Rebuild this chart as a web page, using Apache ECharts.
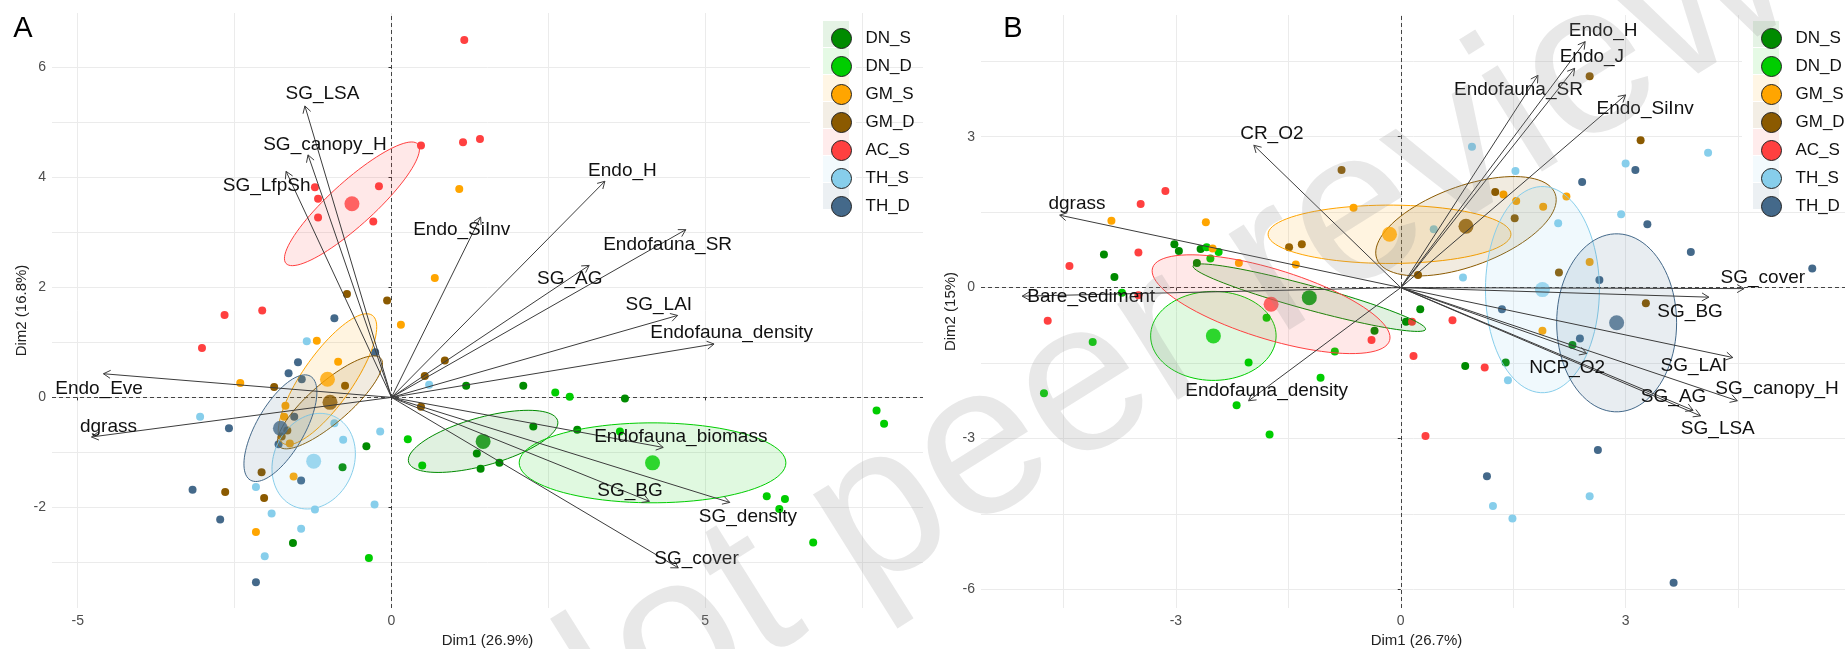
<!DOCTYPE html>
<html><head><meta charset="utf-8">
<script src="https://cdn.jsdelivr.net/npm/echarts@6/dist/echarts.min.js"></script>
<style>html,body{margin:0;padding:0;background:#fff}#c{width:1845px;height:649px}</style>
</head><body><div id="c"></div>
<script>
// ---------- groups ----------
const groups = ['DN_S','DN_D','GM_S','GM_D','AC_S','TH_S','TH_D'];
const groupColors = ['#008B00','#00CD00','#FFA500','#8B5A00','#FF4040','#87CEEB','#44698A'];

// ---------- panel A: individuals ----------
const ptsA_DN_S = [[-0.40,-0.89],[-0.78,-1.27],[-1.57,-2.65],[1.19,0.21],[2.10,0.21],[3.72,-0.02],[2.26,-0.53],[2.96,-0.59],[1.36,-1.02],[1.42,-1.30],[1.72,-1.19]];
const ptsA_DN_D = [[0.26,-0.76],[0.49,-1.24],[-0.36,-2.92],[2.61,0.09],[2.84,0.01],[3.64,-0.62],[5.98,-1.80],[6.27,-1.85],[6.18,-2.03],[6.72,-2.64],[7.73,-0.24],[7.85,-0.48]];
const ptsA_GM_S = [[1.08,3.79],[0.69,2.17],[0.15,1.32],[-1.19,1.03],[-0.85,0.65],[-2.41,0.26],[-1.69,-0.15],[-1.71,-0.35],[-1.62,-0.84],[-1.56,-1.44],[-2.16,-2.45]];
const ptsA_GM_D = [[-0.71,1.88],[-0.07,1.76],[0.85,0.67],[0.53,0.39],[-1.87,0.19],[-0.74,0.21],[0.47,-0.17],[-1.66,-0.60],[-1.75,-0.71],[-2.07,-1.36],[-2.65,-1.72],[-2.03,-1.83]];
const ptsA_AC_S = [[-1.22,3.82],[-1.17,3.61],[-1.17,3.27],[-0.20,3.84],[-0.29,3.20],[0.47,4.58],[-2.66,1.50],[-2.06,1.58],[1.16,6.50],[1.14,4.64],[1.41,4.70],[-3.02,0.90]];
const ptsA_TH_S = [[-1.35,1.02],[0.60,0.23],[-3.05,-0.35],[-0.91,-0.47],[-0.77,-0.77],[-0.18,-0.62],[-2.16,-1.63],[-0.27,-1.95],[-1.22,-2.04],[-1.91,-2.11],[-1.44,-2.39],[-2.02,-2.89]];
const ptsA_TH_D = [[-0.91,1.44],[-1.49,0.64],[-1.64,0.44],[-0.26,0.82],[-1.43,0.33],[-1.55,-0.35],[-2.59,-0.56],[-1.80,-0.85],[-1.44,-1.51],[-3.17,-1.68],[-2.73,-2.22],[-2.16,-3.36]];
// group means (order of groups)
const centroidsA = [[1.46,-0.80],[4.16,-1.19],[-1.02,0.33],[-0.98,-0.09],[-0.63,3.52],[-1.24,-1.16],[-1.77,-0.56]];
// confidence ellipses: centre, first semi-axis vector, second semi-axis vector (data units)
const ellipsesA = [
  [1.46,-0.80, 1.187,0.378, 0.103,-0.420],
  [4.16,-1.19, 2.125,0.000, 0.000,0.727],
  [-1.02,0.33, 0.714,1.162, 0.326,-0.261],
  [-0.98,-0.09, 0.810,0.800, 0.209,-0.275],
  [-0.63,3.52, 1.050,1.085, 0.235,-0.296],
  [-1.24,-1.16, 0.319,0.818, 0.583,-0.295],
  [-1.77,-0.56, 0.478,0.945, 0.331,-0.218]
];
// variables
const varNamesA = ['SG_LSA','SG_canopy_H','SG_LfpSh','Endo_SiInv','Endo_H','Endofauna_SR','SG_AG','SG_LAI','Endofauna_density','Endofauna_biomass','SG_BG','SG_density','SG_cover','Endo_Eve','dgrass'];
const arrowsA = [[-1.38,5.30],[-1.33,4.41],[-1.68,4.11],[1.42,3.28],[3.40,3.93],[4.69,3.05],[3.15,2.40],[4.56,1.49],[5.14,0.97],[4.33,-0.91],[4.11,-1.89],[5.39,-1.91],[4.57,-3.10],[-4.59,0.43],[-4.78,-0.72]];
const labelPosA = [[-1.10,5.52],[-1.06,4.59],[-1.99,3.85],[1.12,3.04],[3.68,4.13],[4.40,2.78],[2.84,2.15],[4.26,1.69],[5.42,1.17],[4.61,-0.71],[3.80,-1.69],[5.68,-2.18],[4.86,-2.94],[-4.66,0.15],[-4.51,-0.53]];

// ---------- panel B: individuals ----------
const ptsB_DN_S = [[-3.02,0.86],[-2.96,0.73],[-2.67,0.77],[-2.72,0.49],[-3.96,0.66],[-3.82,0.21],[0.07,-0.68],[-0.35,-0.86],[0.26,-0.43],[0.86,-1.56],[1.40,-1.49],[2.29,-1.14]];
const ptsB_DN_D = [[-2.59,0.80],[-2.43,0.71],[-2.54,0.58],[-3.72,-0.10],[-1.79,-0.60],[-2.03,-1.49],[-0.88,-1.27],[-1.07,-1.79],[-2.19,-2.34],[-4.11,-1.08],[-4.76,-2.10],[-1.75,-2.92]];
const ptsB_GM_S = [[-3.86,1.33],[-2.60,1.30],[-0.63,1.59],[-1.40,0.46],[-2.16,0.49],[-2.51,0.78],[1.37,1.85],[1.54,1.72],[1.90,1.61],[2.21,1.81],[1.89,-0.86],[2.52,0.51]];
const ptsB_GM_D = [[-0.79,2.34],[-1.49,0.80],[-1.32,0.86],[1.26,1.90],[1.52,1.38],[0.23,0.25],[2.11,0.30],[2.52,4.20],[3.20,2.93],[3.27,-0.31]];
const ptsB_AC_S = [[-3.14,1.92],[-3.47,1.66],[-3.50,0.70],[-4.42,0.43],[-3.50,-0.15],[-4.71,-0.66],[-0.39,-1.04],[0.15,-0.68],[0.69,-0.65],[0.17,-1.36],[1.12,-1.59],[0.33,-2.95]];
const ptsB_TH_S = [[0.44,1.16],[0.83,0.20],[1.53,2.32],[2.10,1.28],[0.95,2.80],[4.10,2.68],[3.00,2.47],[2.94,1.46],[1.43,-1.84],[2.52,-4.15],[1.23,-4.34],[1.49,-4.59]];
const ptsB_TH_D = [[1.35,-0.43],[3.13,2.34],[2.42,2.10],[3.29,1.26],[3.87,0.71],[5.49,0.38],[2.65,0.15],[2.39,-1.01],[2.63,-3.23],[1.15,-3.75],[3.64,-5.87]];
const centroidsB = [[-1.22,-0.20],[-2.50,-0.96],[-0.15,1.06],[0.87,1.22],[-1.73,-0.33],[1.89,-0.04],[2.88,-0.70]];
const ellipsesB = [
  [-1.22,-0.20, 1.551,-0.630, -0.042,-0.231],
  [-2.50,-0.96, 0.837,0.000, 0.000,0.885],
  [-0.15,1.06, 1.620,0.000, 0.000,0.580],
  [0.87,1.22, 1.190,0.646, 0.183,-0.748],
  [-1.73,-0.33, 1.581,-0.722, -0.136,-0.666],
  [1.89,-0.04, 0.760,0.000, 0.000,2.050],
  [2.88,-0.70, 0.800,0.000, 0.000,1.770]
];
const varNamesB = ['Endo_H','Endo_J','Endofauna_SR','Endo_SiInv','CR_O2','dgrass','Bare_sediment','Endofauna_density','SG_cover','SG_BG','NCP_O2','SG_LAI','SG_canopy_H','SG_AG','SG_LSA'];
const arrowsB = [[2.46,4.89],[2.32,4.36],[1.83,4.22],[3.00,3.83],[-1.96,2.83],[-4.55,1.44],[-5.05,-0.17],[-2.03,-2.25],[4.58,-0.02],[4.11,-0.19],[2.48,-1.31],[4.43,-1.39],[4.49,-2.25],[3.90,-2.44],[4.00,-2.55]];
const labelPosB = [[2.70,5.10],[2.55,4.59],[1.57,3.94],[3.26,3.56],[-1.72,3.05],[-4.32,1.67],[-4.13,-0.18],[-1.79,-2.06],[4.83,0.20],[3.86,-0.48],[2.22,-1.59],[3.91,-1.55],[5.02,-2.02],[3.64,-2.18],[4.23,-2.81]];

// ---------- axes ticks ----------
const xTicksA = [-5,0,5], xMinorA = [-2.5,2.5,7.5];
const yTicksA = [-2,0,2,4,6], yMinorA = [-3,-1,1,3,5];
const xTicksB = [-3,0,3], xMinorB = [-4.5,-1.5,1.5,4.5];
const yTicksB = [-6,-3,0,3], yMinorB = [-4.5,-1.5,1.5,4.5];
const axisTitlesA = ['Dim1 (26.9%)','Dim2 (16.8%)'];
const axisTitlesB = ['Dim1 (26.7%)','Dim2 (15%)'];

const FONT = 'Liberation Sans, Arial, sans-serif';
function rgba(hex,a){const n=parseInt(hex.slice(1),16);return `rgba(${(n>>16)&255},${(n>>8)&255},${n&255},${a})`;}

const ptsA = [ptsA_DN_S,ptsA_DN_D,ptsA_GM_S,ptsA_GM_D,ptsA_AC_S,ptsA_TH_S,ptsA_TH_D];
const ptsB = [ptsB_DN_S,ptsB_DN_D,ptsB_GM_S,ptsB_GM_D,ptsB_AC_S,ptsB_TH_S,ptsB_TH_D];

function panelSeries(pi, pts, cents, ells, arrows, labs, names, gx, gy){
  const s = [];
  const ax = {xAxisIndex:pi, yAxisIndex:pi};
  s.push(Object.assign({type:'scatter', data:[[0,0]], symbolSize:0, silent:true, z:0,
    markLine:{z:0, silent:true, symbol:['none','none'], label:{show:false}, animation:false,
      lineStyle:{type:'solid', color:'#EBEBEB', width:1},
      data:[...gx.map(v=>({xAxis:v})), ...gy.map(v=>({yAxis:v}))]}}, ax));
  s.push(Object.assign({type:'scatter', data:[[0,0]], symbolSize:0, silent:true, z:1,
    markLine:{z:1, silent:true, symbol:['none','none'], label:{show:false}, animation:false,
      lineStyle:{type:[4,3], color:'#444', width:1},
      data:[{xAxis:0},{yAxis:0}]}}, ax));
  pts.forEach((p,i)=>{
    s.push(Object.assign({type:'scatter', name:groups[i], data:p, symbolSize:8, z:2,
      itemStyle:{color:groupColors[i], opacity:1}}, ax));
  });
  s.push(Object.assign({type:'custom', name:'ell'+pi, z:3, silent:true,
    data: ells.map((e,i)=>[...e, i]),
    encode:{x:0,y:1},
    renderItem:function(params, api){
      const cx=api.value(0), cy=api.value(1), a1=api.value(2), a2=api.value(3), b1=api.value(4), b2=api.value(5);
      const col = groupColors[api.value(6)];
      const P=[];
      for(let k=0;k<=90;k++){const t=k/90*2*Math.PI;
        P.push(api.coord([cx+a1*Math.cos(t)+b1*Math.sin(t), cy+a2*Math.cos(t)+b2*Math.sin(t)]));}
      return {type:'polygon', shape:{points:P}, style:{fill:rgba(col,0.12), stroke:col, lineWidth:1}};
    }}, ax));
  s.push(Object.assign({type:'scatter', name:'mean'+pi, z:4, symbolSize:15,
    data: cents.map((c,i)=>({value:c, itemStyle:{color:groupColors[i]}}))}, ax));
  s.push(Object.assign({type:'custom', name:'arrows'+pi, z:5, silent:true, data:arrows, encode:{x:0,y:1},
    renderItem:function(params, api){
      const p0=api.coord([0,0]), p1=api.coord([api.value(0),api.value(1)]);
      const ang=Math.atan2(p1[1]-p0[1], p1[0]-p0[0]);
      const L=8, w=Math.PI/6;
      const h1=[p1[0]-L*Math.cos(ang-w), p1[1]-L*Math.sin(ang-w)];
      const h2=[p1[0]-L*Math.cos(ang+w), p1[1]-L*Math.sin(ang+w)];
      return {type:'group', children:[
        {type:'line', shape:{x1:p0[0],y1:p0[1],x2:p1[0],y2:p1[1]}, style:{stroke:'#3c3c3c', lineWidth:1}},
        {type:'polyline', shape:{points:[h1,p1,h2]}, style:{stroke:'#3c3c3c', lineWidth:1, fill:'none'}}
      ]};
    }}, ax));
  s.push(Object.assign({type:'custom', name:'labels'+pi, z:6, silent:true, data:labs, encode:{x:0,y:1},
    renderItem:function(params, api){
      const p=api.coord([api.value(0),api.value(1)]);
      return {type:'text', x:p[0], y:p[1], style:{text:names[params.dataIndex], fill:'#111',
        font:'19px '+FONT, align:'center', verticalAlign:'middle'}};
    }}, ax));
  return s;
}

function xAxisCfg(gi, min, max, ticks, title){
  return {gridIndex:gi, type:'value', min:min, max:max,
    axisLine:{show:false}, splitLine:{show:false},
    axisTick:{show:true, customValues:ticks, length:3, lineStyle:{color:'#333'}},
    axisLabel:{customValues:ticks, color:'#4D4D4D', fontSize:14, fontFamily:FONT, margin:6},
    name:title, nameLocation:'middle', nameGap:25,
    nameTextStyle:{color:'#222', fontSize:15, fontFamily:FONT}};
}
function yAxisCfg(gi, min, max, ticks, title, gap){
  return {gridIndex:gi, type:'value', min:min, max:max,
    axisLine:{show:false}, splitLine:{show:false},
    axisTick:{show:true, customValues:ticks, length:3, lineStyle:{color:'#333'}},
    axisLabel:{customValues:ticks, color:'#4D4D4D', fontSize:14, fontFamily:FONT, margin:6},
    name:title, nameLocation:'middle', nameGap:gap,
    nameTextStyle:{color:'#222', fontSize:15, fontFamily:FONT}};
}

function legendCfg(left){
  return {data:groups, orient:'vertical', left:left, top:23, itemWidth:20, itemHeight:20, itemGap:7,
    icon:'circle', selectedMode:false,
    itemStyle:{borderColor:'#222', borderWidth:1},
    textStyle:{fontSize:17, color:'#111', fontFamily:FONT, padding:[0,0,4,9]}};
}

const graphics = [];
// white legend backgrounds and key tints
graphics.push({type:'rect', left:810, top:18, z:1, shape:{width:46, height:192}, style:{fill:'#fff'}});
graphics.push({type:'rect', left:1742, top:18, z:1, shape:{width:103, height:194}, style:{fill:'#fff'}});
groups.forEach((g,i)=>{
  graphics.push({type:'rect', left:823, top:21+i*27, z:2, shape:{width:26, height:26}, style:{fill:rgba(groupColors[i],0.1)}});
  graphics.push({type:'rect', left:1753, top:21+i*27, z:2, shape:{width:26, height:26}, style:{fill:rgba(groupColors[i],0.1)}});
});
graphics.push({type:'text', x:23, y:29, z:10, style:{text:'A', font:'29px '+FONT, fill:'#000', align:'center', verticalAlign:'middle'}});
graphics.push({type:'text', x:1013, y:29, z:10, style:{text:'B', font:'29px '+FONT, fill:'#000', align:'center', verticalAlign:'middle'}});
graphics.push({type:'text', x:1235, y:294, z:100, rotation:0.56, silent:true,
  style:{text:'Not peer reviewed', font:'215px '+FONT, fill:'rgba(140,140,140,0.2)', align:'center', verticalAlign:'middle'}});

const option = {
  animation:false,
  backgroundColor:'#fff',
  grid:[{left:52, top:13, width:871, height:595, outerBoundsMode:'none', containLabel:false},
        {left:981, top:15, width:871, height:593, outerBoundsMode:'none', containLabel:false}],
  xAxis:[xAxisCfg(0,-5.41,8.47,xTicksA,axisTitlesA[0]), xAxisCfg(1,-5.6,6.02,xTicksB,axisTitlesB[0])],
  yAxis:[yAxisCfg(0,-3.83,6.99,yTicksA,axisTitlesA[1],23), yAxisCfg(1,-6.37,5.42,yTicksB,axisTitlesB[1],21)],
  legend:[legendCfg(826), legendCfg(1756)],
  graphic:graphics,
  series:[
    ...panelSeries(0, ptsA, centroidsA, ellipsesA, arrowsA, labelPosA, varNamesA, [...xTicksA,...xMinorA], [...yTicksA,...yMinorA]),
    ...panelSeries(1, ptsB, centroidsB, ellipsesB, arrowsB, labelPosB, varNamesB, [...xTicksB,...xMinorB], [...yTicksB,...yMinorB])
  ]
};
const chart = echarts.init(document.getElementById('c'));
chart.setOption(option);
</script>
</body></html>
